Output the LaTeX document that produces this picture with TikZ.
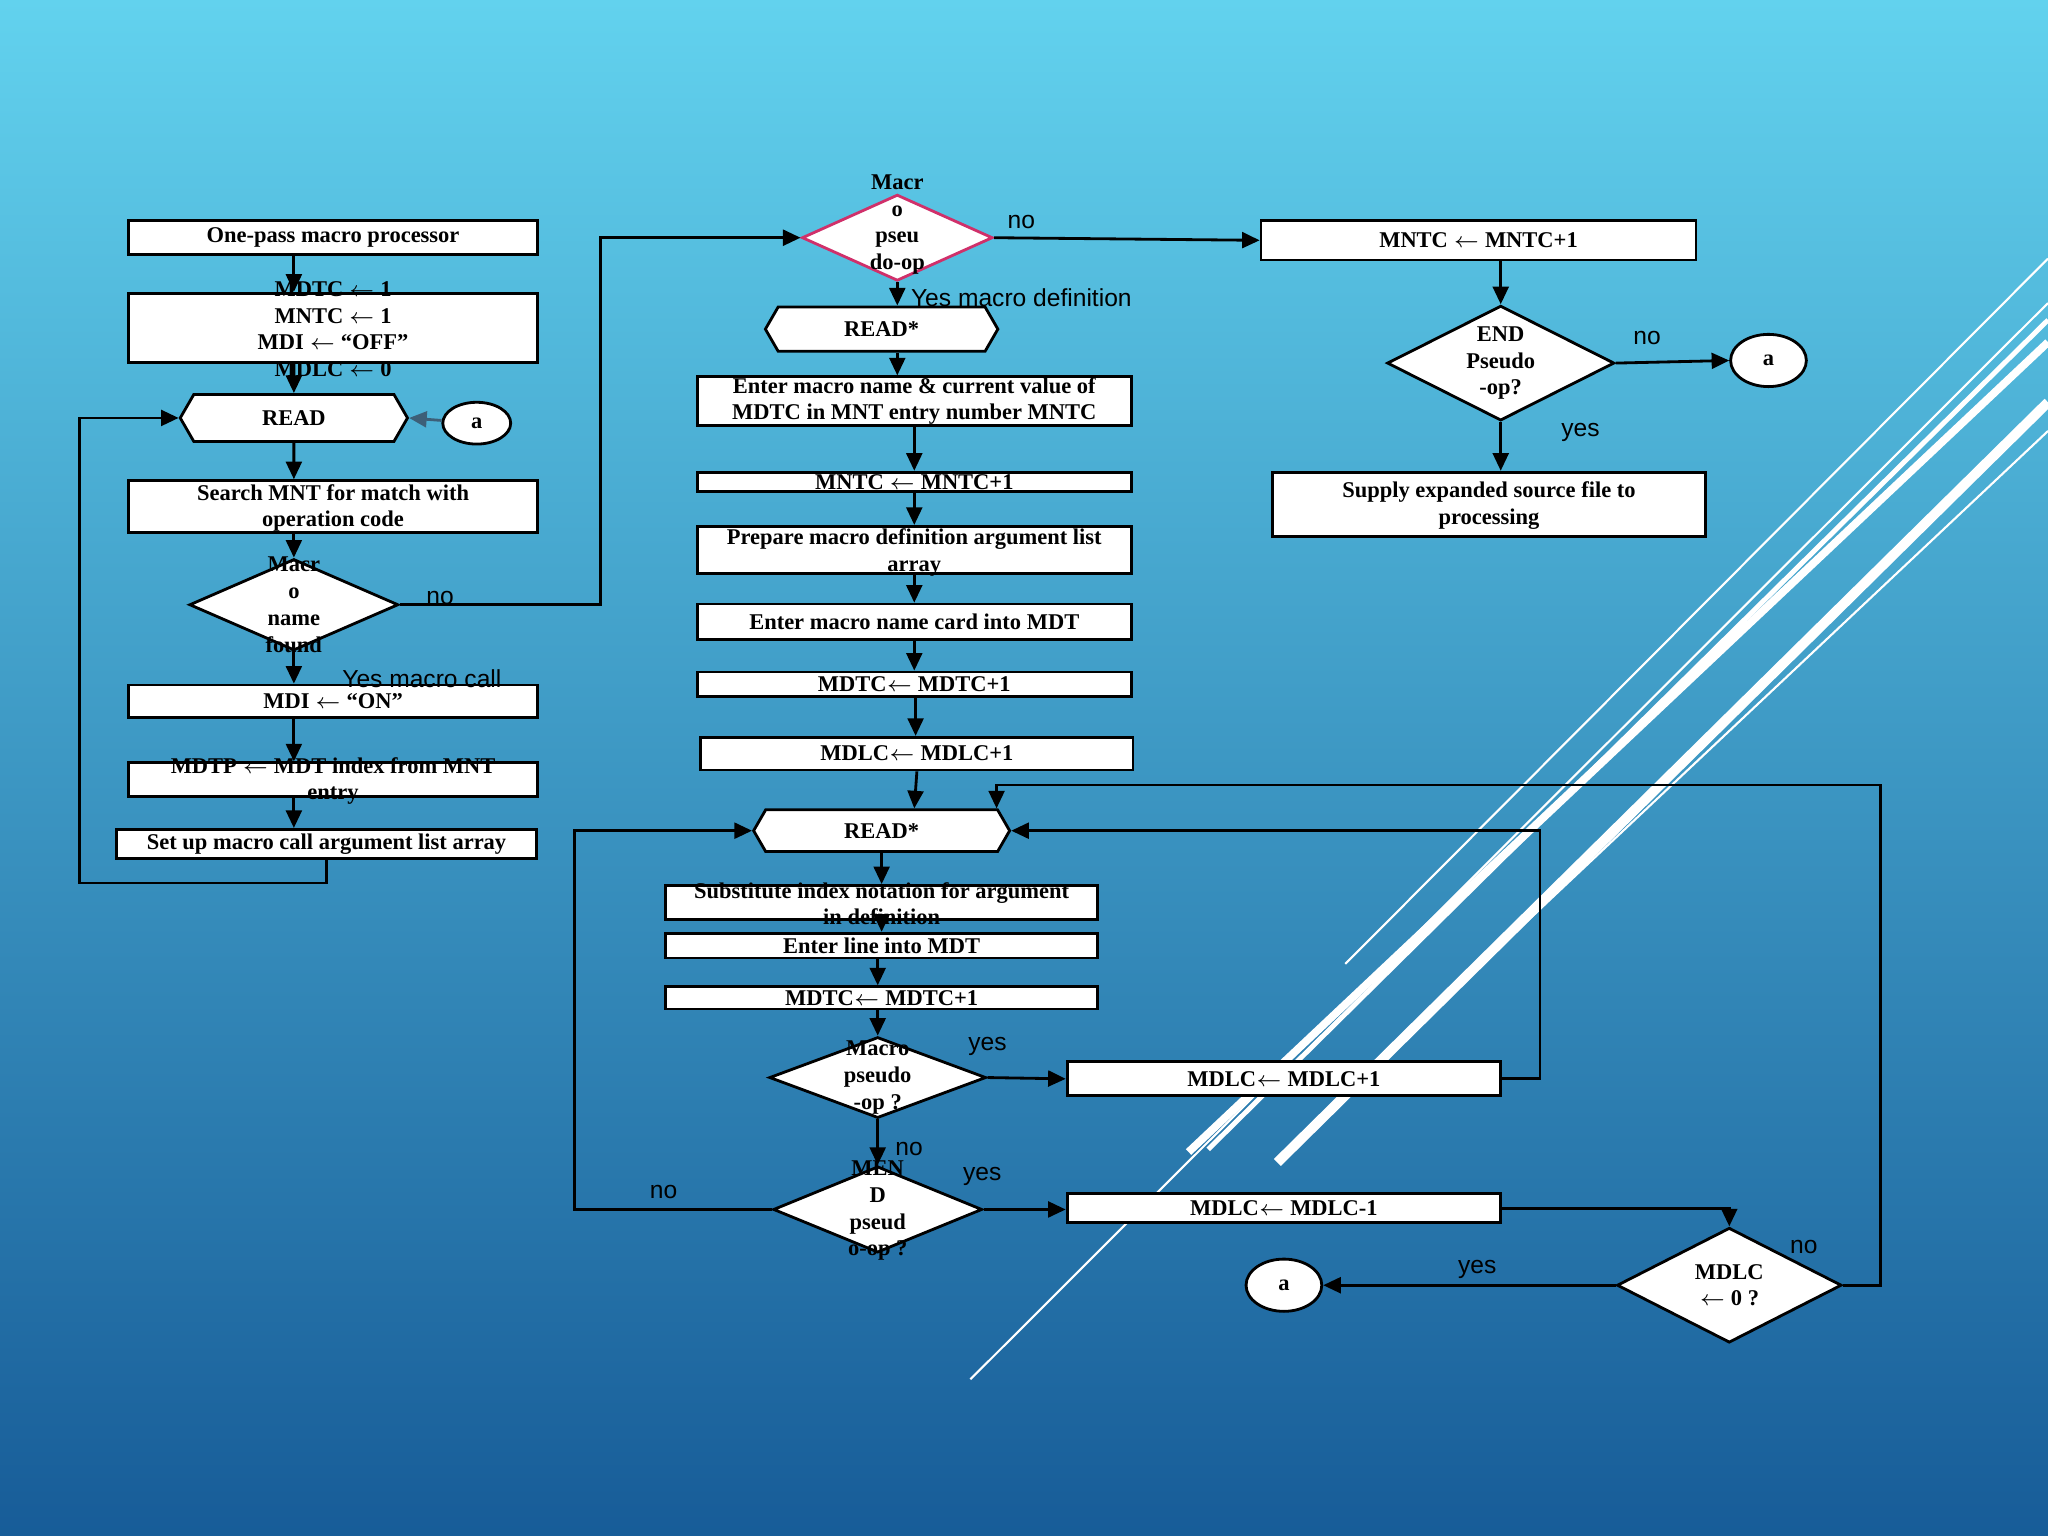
\documentclass[tikz,border=0pt]{standalone}
\usepackage{fontspec}
\setmainfont{Liberation Serif}
\setsansfont{Liberation Sans}
\usetikzlibrary{shapes.geometric,shapes.symbols,arrows.meta}
\newlength\pxu \setlength\pxu{0.01306cm}
\definecolor{bgtop}{HTML}{62D2EE}
\definecolor{bgbot}{HTML}{175C98}
\definecolor{pinkb}{HTML}{D0306A}
\definecolor{slate}{HTML}{3D5F78}
\begin{document}
\begin{tikzpicture}[x=0.01306cm,y=-0.01306cm,
 every node/.style={inner sep=0pt,align=center,font=\fontsize{6.4}{7.6}\selectfont\bfseries},
 box/.style={draw,fill=white,line width=0.8pt},
 dia/.style={diamond,draw,fill=white,line width=0.8pt},
 hex/.style={signal,signal to=west and east,signal pointer angle=120,draw,fill=white,line width=0.8pt},
 oval/.style={ellipse,draw,fill=white,line width=0.8pt},
 lab/.style={font=\fontsize{7}{8}\selectfont\sffamily},
 arr/.style={line width=0.8pt,-{Triangle[length=5pt,width=4.5pt]}}]
\useasboundingbox (0,0) rectangle (1568,1176);
\shade[top color=bgtop,bottom color=bgbot] (0,0) rectangle (1568,1176);
% decorative lines
\draw[white,line width=0.6pt] (743,1056) -- (1568,232);
\draw[white,line width=0.6pt] (1030,738) -- (1568,198);
\draw[white,line width=2.2pt] (910,882) -- (1568,262);
\draw[white,line width=1.4pt] (925,880) -- (1568,245);
\draw[white,line width=2.8pt] (978,890) -- (1568,308);
\draw[white,line width=0.6pt] (1060,808) -- (1568,330);
% left column
\node[box,minimum width=313\pxu,minimum height=26\pxu] (p1) at (255,182) {One-pass macro processor};
\node[box,minimum width=313\pxu,minimum height=53\pxu] (p2) at (255,251) {};
\node (p2t) at (255,252) {MDTC $\leftarrow$ 1\\MNTC $\leftarrow$ 1\\MDI $\leftarrow$ “OFF”\\MDLC $\leftarrow$ 0};
\node[hex,minimum width=174\pxu,minimum height=36\pxu] (r1) at (225,320) {READ};
\node[oval,minimum width=52\pxu,minimum height=32\pxu] (a1) at (365,324) {a};
\node[box,minimum width=313\pxu,minimum height=40\pxu] (s1) at (255,388) {};
\node (s1t) at (255,389) {Search MNT for match with\\operation code};
\node[dia,minimum width=160\pxu,minimum height=70\pxu] (d1) at (225,463) {};
\node (d1t) at (225,463) {Macr\\o\\name\\found};
\node[box,minimum width=313\pxu,minimum height=25\pxu] (m1) at (255,537) {MDI $\leftarrow$ “ON”};
\node[box,minimum width=313\pxu,minimum height=26\pxu] (m2) at (255,597) {};
\node (m2t) at (255,598) {MDTP $\leftarrow$ MDT index from MNT\\entry};
\node[box,minimum width=322\pxu,minimum height=22\pxu] (m3) at (250,646) {Set up macro call argument list array};
\draw[arr] (p1.south -| 225,0) -- (p2.north -| 225,0);
\draw[arr] (p2.south -| 225,0) -- (r1);
\draw[arr] (r1) -- (s1.north -| 225,0);
\draw[arr] (s1.south -| 225,0) -- (d1);
\draw[arr] (d1) -- (m1.north -| 225,0);
\draw[arr] (m1.south -| 225,0) -- (m2.north -| 225,0);
\draw[arr] (m2.south -| 225,0) -- (m3.north -| 225,0);
\draw[arr] (m3.south) |- (61,676) |- (r1.west);
\draw[arr,draw=slate] (a1) -- (r1.east);
\node[lab] at (337,458) {no};
\node[lab] at (323,520) {Yes macro call};
% middle column
\node[dia,draw=pinkb,minimum width=146\pxu,minimum height=66\pxu] (d2) at (687,182) {};
\node (d2t) at (687,172) {Macr\\o\\pseu\\do-op};
\draw[arr] (d1.east) -| (460,182) -- (d2.west);
\node[lab] at (782,170) {no};
\node[lab] at (782,228) {Yes macro definition};
\node[hex,minimum width=178\pxu,minimum height=34\pxu] (r2) at (675,252) {READ*};
\node[box,minimum width=332\pxu,minimum height=37\pxu] (e1) at (700,307) {};
\node (e1t) at (700,307) {Enter macro name \& current value of\\MDTC in MNT entry number MNTC};
\node[box,minimum width=332\pxu,minimum height=15\pxu] (e2) at (700,369) {};
\node (e2t) at (700,369) {MNTC $\leftarrow$ MNTC+1};
\node[box,minimum width=332\pxu,minimum height=36\pxu] (e3) at (700,421) {};
\node (e3t) at (700,423) {Prepare macro definition argument list\\array};
\node[box,minimum width=332\pxu,minimum height=27\pxu] (e4) at (700,476) {Enter macro name card into MDT};
\node[box,minimum width=332\pxu,minimum height=19\pxu] (e5) at (700,524) {MDTC$\leftarrow$ MDTC+1};
\node[box,minimum width=331\pxu,minimum height=25\pxu] (e6) at (702,577) {MDLC$\leftarrow$ MDLC+1};
\node[hex,minimum width=196\pxu,minimum height=32\pxu] (r3) at (675,636) {READ*};
\node[box,minimum width=331\pxu,minimum height=26\pxu] (f1) at (675,691) {};
\node (f1t) at (675,692) {Substitute index notation for argument\\in definition};
\node[box,minimum width=331\pxu,minimum height=19\pxu] (f2) at (675,724) {Enter line into MDT};
\node[box,minimum width=331\pxu,minimum height=17\pxu] (f3) at (675,764) {};
\node (f3t) at (675,764) {MDTC$\leftarrow$ MDTC+1};
\node[dia,minimum width=166\pxu,minimum height=62\pxu] (d3) at (672,825) {};
\node (d3t) at (672,825) {Macro\\pseudo\\-op ?};
\node[dia,minimum width=160\pxu,minimum height=66\pxu] (d4) at (672,926) {};
\node (d4t) at (672,927) {MEN\\D\\pseud\\o-op ?};
\node[box,minimum width=332\pxu,minimum height=26\pxu] (g1) at (983,826) {MDLC$\leftarrow$ MDLC+1};
\node[box,minimum width=332\pxu,minimum height=22\pxu] (g2) at (983,925) {MDLC$\leftarrow$ MDLC-1};
\node[dia,minimum width=172\pxu,minimum height=88\pxu] (d5) at (1324,984) {};
\node (d5t) at (1324,984) {MDLC\\$\leftarrow$ 0 ?};
\node[oval,minimum width=58\pxu,minimum height=40\pxu] (a3) at (983,984) {a};
\draw[arr] (d2.south) -- (r2.north -| 687,0);
\draw[arr] (r2.south -| 687,0) -- (e1.north -| 687,0);
\draw[arr] (e1.south) -- (e2.north);
\draw[arr] (e2.south) -- (e3.north);
\draw[arr] (e3.south) -- (e4.north);
\draw[arr] (e4.south) -- (e5.north);
\draw[arr] (e5.south -| 701,0) -- (e6.north -| 701,0);
\draw[arr] (e6.south) -- (r3.north -| 700,0);
\draw[arr] (r3.south) -- (f1.north);
\draw[arr] (f1.south) -- (f2.north);
\draw[arr] (f2.south -| 672,0) -- (f3.north -| 672,0);
\draw[arr] (f3.south -| 672,0) -- (d3.north);
\draw[arr] (d3.south) -- (d4.north);
\draw[arr] (d3.east) -- (g1.west);
\draw[arr] (d4.east) -- (g1.west |- d4.east);
\draw[arr] (g1.east) -| (1179,700) |- (r3.east);
\draw[arr] (g2.east) -| (d5.north);
\draw[arr] (d5.east) -| (1440,601) -| (r3.north -| 763,0);
\draw[arr] (d5.west) -- (a3.east);
\draw[arr] (d4.west) -| (440,700) |- (r3.west);
\node[lab] at (756,801) {yes};
\node[lab] at (696,880) {no};
\node[lab] at (752,901) {yes};
\node[lab] at (508,913) {no};
\node[lab] at (1381,955) {no};
\node[lab] at (1131,972) {yes};
% right column
\node[box,minimum width=333\pxu,minimum height=30\pxu] (n1) at (1132,184) {MNTC $\leftarrow$ MNTC+1};
\node[dia,minimum width=174\pxu,minimum height=88\pxu] (d6) at (1149,278) {};
\node (d6t) at (1149,278) {END\\Pseudo\\-op?};
\node[oval,minimum width=58\pxu,minimum height=40\pxu] (a2) at (1354,276) {a};
\node[box,minimum width=332\pxu,minimum height=49\pxu] (sp) at (1140,386) {};
\node (spt) at (1140,387) {Supply expanded source file to\\processing};
\draw[arr] (d2.east) -- (n1.west);
\draw[arr] (n1.south -| 1149,0) -- (d6.north);
\draw[arr] (d6.east) -- (a2.west);
\draw[arr] (d6.south) -- (sp.north -| 1149,0);
\node[lab] at (1261,259) {no};
\node[lab] at (1210,331) {yes};
\end{tikzpicture}
\end{document}
